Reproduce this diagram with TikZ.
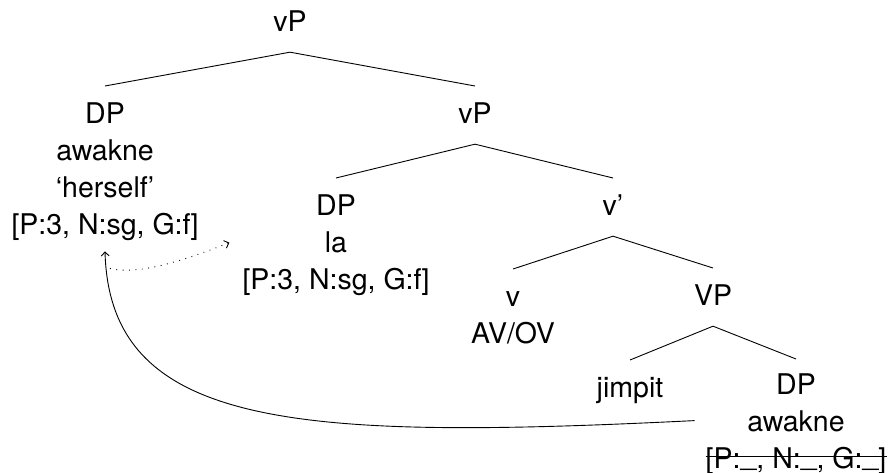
\documentclass[tikz,border=0pt]{standalone}
\usepackage{fontspec}
\setmainfont{TeX Gyre Heros}
\usetikzlibrary{arrows.meta}
\newcommand{\unval}{\raisebox{3pt}{\_}}
\begin{document}
\begin{tikzpicture}[x=1pt,y=-1pt,
  lbl/.style={inner sep=0pt, anchor=north, align=center, font=\fontsize{28.5}{37}\selectfont},
  branch/.style={line width=0.9pt},
  movearrow/.style={line width=0.9pt, -{Straight Barb[length=4pt,width=8pt]}},
  agreearrow/.style={line width=0.9pt, dash pattern=on 0.9pt off 5.5pt, -{Straight Barb[length=4pt,width=8pt]}}]
\useasboundingbox (0,0) rectangle (891,473);
% nodes
\node[lbl] (vP1) at (290,11) {\vphantom{P}vP};
\node[lbl] (DPa) at (105,103) {\vphantom{P}DP\\awakne\\‘herself’\\{[}P:3, N:sg, G:f{]}};
\node[lbl] (vP2) at (475,103) {\vphantom{P}vP};
\node[lbl] (DPla) at (336,195) {\vphantom{P}DP\\la\\{[}P:3, N:sg, G:f{]}};
\node[lbl] (vbar) at (613,195) {\vphantom{P}v’};
\node[lbl] (vhead) at (513,286) {\vphantom{P}v\\AV/OV};
\node[lbl] (VP) at (713,285) {\vphantom{P}VP};
\node[lbl] (jimpit) at (630,377) {\vphantom{P}jimpit};
\node[lbl] (DPb) at (796,374) {\vphantom{P}DP\\awakne\\{[}P:\unval, N:\unval, G:\unval{]}};
% branches
\foreach \p/\c in {vP1/DPa, vP1/vP2, vP2/DPla, vP2/vbar, vbar/vhead, vbar/VP, VP/jimpit}
  \draw[branch] ([yshift=-20pt]\p.south) -- ([yshift=17pt]\c.north);
\draw[branch] ([yshift=-20pt]VP.south) -- ([yshift=15pt]DPb.north);
% strike-through of unvalued features
\draw[branch] ([yshift=19pt]DPb.south west) -- ([yshift=19pt]DPb.south east);
% arrow coordinates
\coordinate (tipA) at ([yshift=-10pt]DPa.south);
\coordinate (dotS) at ([xshift=5pt,yshift=-27pt]DPa.south);
\coordinate (dotE) at ([xshift=-13pt,yshift=3pt]DPla.west);
\coordinate (movS) at ([xshift=-11pt,yshift=4pt]DPb.west);
% arrows
\draw[movearrow] (movS) .. controls (300,440) and (110,430) .. (tipA);
\draw[agreearrow] (dotS) .. controls (140,276) and (190,258) .. (dotE);
\end{tikzpicture}
\end{document}
